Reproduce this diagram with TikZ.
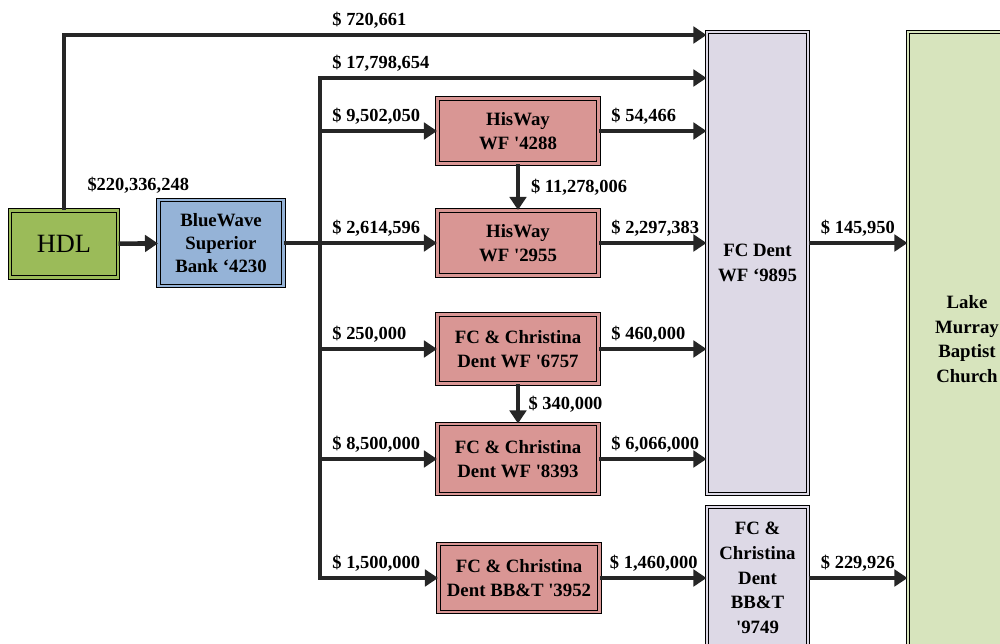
\documentclass[tikz,border=0pt]{standalone}
\usepackage{fontspec}
\setmainfont{Liberation Serif}
\usetikzlibrary{arrows.meta}
\usetikzlibrary{positioning}
\definecolor{hdlgreen}{HTML}{9BBB59}
\definecolor{bankblue}{HTML}{95B3D7}
\definecolor{wfred}{HTML}{D99694}
\definecolor{dentlilac}{HTML}{DDD9E6}
\definecolor{churchgreen}{HTML}{D7E4BD}
\definecolor{linegray}{HTML}{262626}
\tikzset{
acct/.style={ % Sets the properties for each account box
draw=black,
line width=0.6pt,
double distance=1.3pt,
align=center,
inner sep=2pt,
font=\fontsize{10.7}{14}\selectfont\bfseries},
source/.style={acct, fill=hdlgreen, double=hdlgreen,
minimum width=2.16cm, minimum height=1.34cm,
font=\fontsize{15}{18}\selectfont},
bank/.style={acct, fill=bankblue, double=bankblue,
minimum width=2.5cm, minimum height=1.72cm,
font=\fontsize{10.7}{13.2}\selectfont\bfseries},
wf/.style={acct, fill=wfred, double=wfred,
minimum width=3.22cm, minimum height=1.3cm},
dent/.style={acct, fill=dentlilac, double=dentlilac, minimum width=2.02cm},
church/.style={acct, fill=churchgreen, double=churchgreen, minimum width=2.36cm},
flow/.style={draw=linegray, line width=2.6pt},
tip/.style={-{Triangle[length=2.6mm,width=3.3mm]}},
amount/.style={ % Label sitting just after the start of a transfer
pos=0, anchor=south west, inner sep=1.5pt,
xshift=1.5mm, yshift=0.4mm,
font=\fontsize{10.5}{12}\selectfont\bfseries},
every edge/.style={ % Sets the properties for each transfer
flow, tip}}

\begin{document}
\begin{tikzpicture}
\clip (0,0) rectangle (20,12.86);
\node[source] (hdl) at (1.28,7.98) {HDL};
\node[bank] (bw) at (4.42,8.0) {BlueWave\\Superior\\Bank ‘4230};
\node[wf] (hw1) at (10.36,10.24) {HisWay\\WF \textquotesingle4288};
\node[wf] (hw2) at (10.36,8.0) {HisWay\\WF \textquotesingle2955};
\node[wf, minimum height=1.38cm] (fc1) at (10.36,5.88) {FC \& Christina\\Dent WF \textquotesingle6757};
\node[wf, minimum height=1.4cm] (fc2) at (10.36,3.68) {FC \& Christina\\Dent WF \textquotesingle8393};
\node[wf, minimum height=1.36cm] (fc3) at (10.38,1.3) {FC \& Christina\\Dent BB\&T \textquotesingle3952};
\node[dent, minimum height=9.24cm] (dt1) at (15.15,7.6) {FC Dent\\WF ‘9895};
\node[dent, minimum height=2.84cm] (dt2) at (15.15,1.3) {FC \&\\Christina\\Dent\\BB\&T\\\textquotesingle9749};
\node[church, minimum height=12.28cm] (lmbc) at (19.34,6.08) {Lake\\Murray\\Baptist\\Church};
% trunk of the bank's transfers
\coordinate (top) at (6.4,12.16);
\coordinate (t0) at (6.4,11.3);
\coordinate (t1) at (6.4,10.24);
\coordinate (t2) at (6.4,8.0);
\coordinate (t3) at (6.4,5.88);
\coordinate (t4) at (6.4,3.68);
\coordinate (t5) at (6.4,1.3);
\draw[flow, tip] (hdl.north) |- (top) -- node[amount]{\$ 720,661} (top -| dt1.west);
\draw[flow, tip, line cap=rect] (t5) -- (t0) -- node[amount]{\$ 17,798,654} (t0 -| dt1.west);
\draw (hdl) edge node[above=8.5mm, font=\fontsize{10.5}{12}\selectfont\bfseries]{\$220,336,248} (bw);
\draw[flow] (bw) -- (t2);
\draw (t1) edge node[amount]{\$ 9,502,050} (hw1);
\draw (t2) edge node[amount]{\$ 2,614,596} (hw2);
\draw (t3) edge node[amount]{\$ 250,000} (fc1);
\draw (t4) edge node[amount]{\$ 8,500,000} (fc2);
\draw (t5) edge node[amount]{\$ 1,500,000} (fc3);
\draw (hw1) edge node[right=1mm, font=\fontsize{10.5}{12}\selectfont\bfseries]{\$ 11,278,006} (hw2);
\draw (fc1) edge node[right=0.5mm, font=\fontsize{10.5}{12}\selectfont\bfseries]{\$ 340,000} (fc2);
\draw (hw1) edge node[amount]{\$ 54,466} (hw1 -| dt1.west);
\draw (hw2) edge node[amount]{\$ 2,297,383} (hw2 -| dt1.west);
\draw (fc1) edge node[amount]{\$ 460,000} (fc1 -| dt1.west);
\draw (fc2) edge node[amount]{\$ 6,066,000} (fc2 -| dt1.west);
\draw (fc3) edge node[amount, xshift=-0.5mm]{\$ 1,460,000} (dt2);
\draw (hw2 -| dt1.east) edge node[amount]{\$ 145,950} (hw2 -| lmbc.west);
\draw (dt2) edge node[amount]{\$ 229,926} (dt2 -| lmbc.west);
\end{tikzpicture}
\end{document}
